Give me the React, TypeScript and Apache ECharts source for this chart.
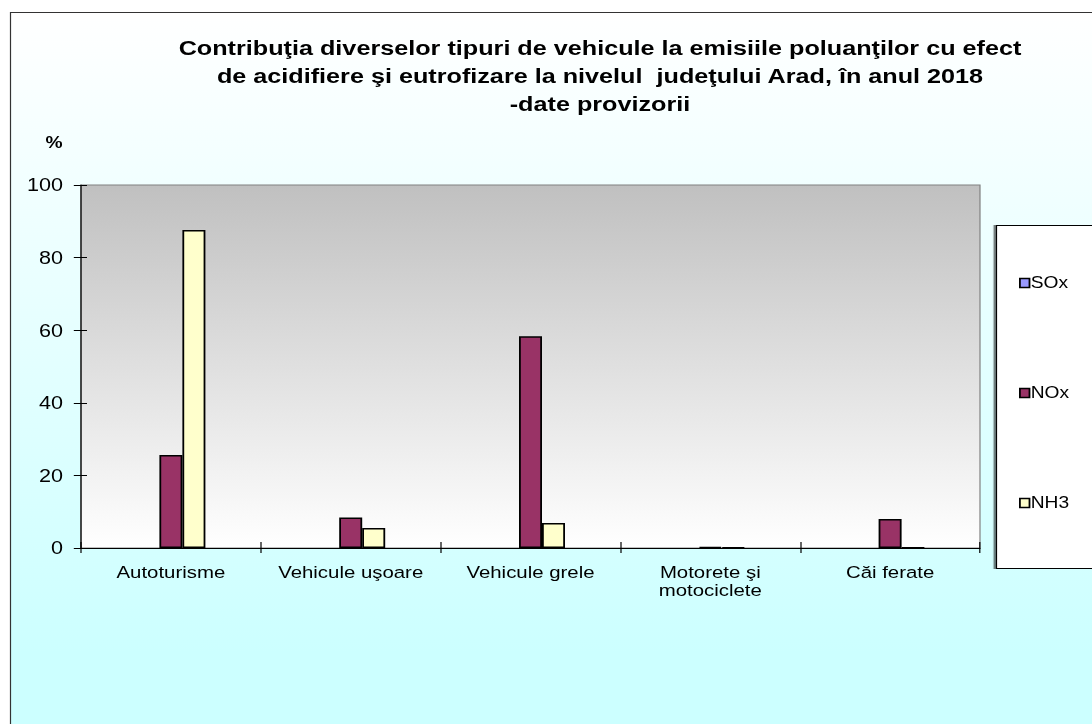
import React, { useEffect, useRef } from "react";
import * as echarts from "echarts";

const categories = [
  "Autoturisme",
  "Vehicule uşoare",
  "Vehicule grele",
  "Motorete şi\nmotociclete",
  "Căi ferate",
];
const seriesNames = ["SOx", "NOx", "NH3"];
const soxValues = [0, 0, 0, 0, 0];
const noxValues = [25.6, 8.4, 58.3, 0.3, 8.0];
const nh3Values = [87.6, 5.5, 6.9, 0.2, 0.1];
const yTicks = { min: 0, max: 100, interval: 20 };
const titleText =
  "Contribuţia diverselor tipuri de vehicule la emisiile poluanţilor cu efect\nde acidifiere şi eutrofizare la nivelul  judeţului Arad, în anul 2018\n-date provizorii";

const FONT = "Arial, 'Liberation Sans', sans-serif";
const colors = ["#9999FF", "#993366", "#FFFFCC"];
// the reference is drawn horizontally stretched; draw at 1/S width and stretch
const S = 1.2;
const W = 1092 / S;
const X = (v: number) => v / S;

export default function App() {
  const ref = useRef<HTMLDivElement>(null);
  useEffect(() => {
    document.body.style.margin = "0";
    document.body.style.overflow = "hidden";
    const chart = echarts.init(ref.current!, null, { renderer: "svg" });
    const values = [soxValues, noxValues, nh3Values];
    chart.setOption({
      animation: false,
      textStyle: { fontFamily: FONT },
      graphic: [
        {
          type: "rect",
          z: -10,
          shape: { x: X(10.5), y: 12.5, width: 1200, height: 800 },
          style: {
            fill: new echarts.graphic.LinearGradient(0, 0, 0, 1, [
              { offset: 0, color: "#FFFFFF" },
              { offset: 0.8, color: "#CCFFFF" },
              { offset: 1, color: "#CCFFFF" },
            ]),
            stroke: "#333333",
            lineWidth: 1,
          },
        },
        {
          type: "rect",
          z: -5,
          shape: { x: X(996.5), y: 225.5, width: 120, height: 343 },
          style: { fill: "#FFFFFF", stroke: "#000000", lineWidth: 1, shadowColor: "rgba(0,0,0,0.5)", shadowOffsetX: -2, shadowBlur: 0 },
        },
        {
          type: "text",
          x: X(600),
          y: 34,
          style: {
            text: titleText,
            font: `bold 21px ${FONT}`,
            textAlign: "center",
            lineHeight: 28,
            fill: "#000",
          },
        },
        {
          type: "text",
          x: X(54),
          y: 143,
          style: {
            text: "%",
            font: `bold 16px ${FONT}`,
            textAlign: "center",
            textVerticalAlign: "middle",
            fill: "#000",
          },
        },
      ],
      legend: {
        data: seriesNames,
        orient: "vertical",
        left: X(1013),
        top: 270,
        itemGap: 94,
        itemWidth: 8,
        itemHeight: 9,
        icon: "rect",
        textStyle: { fontSize: 16, fontFamily: FONT, color: "#000", padding: [0, 0, 0, -4] },
        itemStyle: { borderColor: "#000", borderWidth: 1.5 },
      },
      grid: {
        left: X(81),
        top: 185,
        width: X(899),
        height: 363,
        show: true,
        borderColor: "#808080",
        borderWidth: 1,
        backgroundColor: new echarts.graphic.LinearGradient(0, 0, 0, 1, [
          { offset: 0, color: "#C0C0C0" },
          { offset: 1, color: "#FFFFFF" },
        ]),
      },
      xAxis: [
        {
          type: "category",
          data: categories,
          axisLine: { lineStyle: { color: "#000", width: 1 } },
          axisTick: { show: true, length: 5, lineStyle: { color: "#000" } },
          axisLabel: { color: "#000", fontSize: 17, fontFamily: FONT, margin: 15, lineHeight: 18, interval: 0 },
        },
        {
          type: "category",
          data: categories,
          position: "bottom",
          axisLine: { show: false },
          axisTick: { show: true, inside: true, length: 6, lineStyle: { color: "#000" } },
          axisLabel: { show: false },
        },
      ],
      yAxis: [
        {
          type: "value",
          min: yTicks.min,
          max: yTicks.max,
          interval: yTicks.interval,
          axisLine: { show: true, lineStyle: { color: "#000", width: 1 } },
          axisTick: { show: true, length: 6, lineStyle: { color: "#000" } },
          axisLabel: { color: "#000", fontSize: 18, fontFamily: FONT, margin: 15 },
          splitLine: { show: false },
        },
        {
          type: "value",
          position: "left",
          min: yTicks.min,
          max: yTicks.max,
          interval: yTicks.interval,
          axisLine: { show: false },
          axisTick: { show: true, inside: true, length: 5, lineStyle: { color: "#000" } },
          axisLabel: { show: false },
          splitLine: { show: false },
        },
      ],
      series: seriesNames.map((name, i) => ({
        name,
        type: "bar",
        data: values[i],
        barWidth: X(23),
        barGap: "0%",
        itemStyle: { color: colors[i], borderColor: "#000", borderWidth: i === 0 ? 0 : 1.5 },
      })),
    });
    return () => chart.dispose();
  }, []);
  return (
    <div
      ref={ref}
      style={{ width: W, height: 724, transform: `scaleX(${S})`, transformOrigin: "0 0" }}
    />
  );
}
